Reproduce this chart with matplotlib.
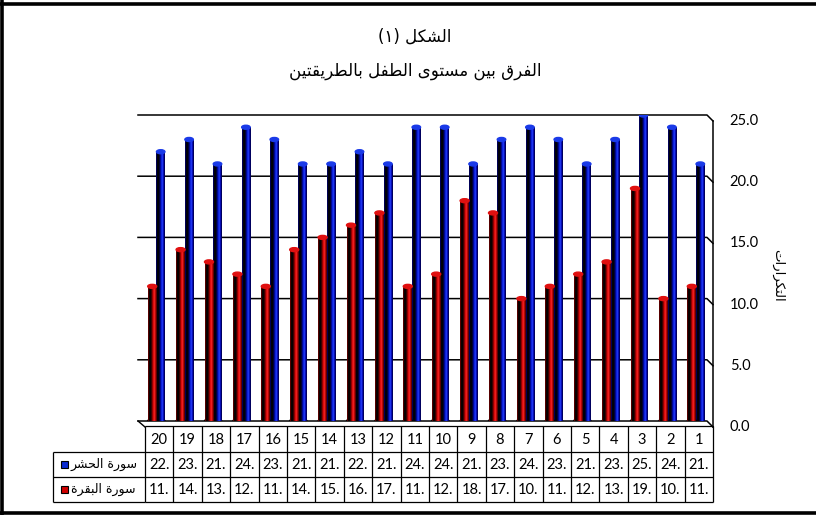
import numpy as np
import matplotlib.pyplot as plt
from matplotlib.colors import LinearSegmentedColormap
from matplotlib.patches import Ellipse, Rectangle
from matplotlib.transforms import blended_transform_factory

# data (categories 1..20, drawn right to left like the original)
cats = list(range(1, 21))
hashr = [21, 24, 25, 23, 21, 23, 24, 23, 21, 24, 24, 21, 22, 21, 21, 23, 24, 21, 23, 22]
baqara = [11, 10, 19, 13, 12, 11, 10, 17, 18, 12, 11, 17, 16, 15, 14, 11, 12, 13, 14, 11]
series_names = ['سورة الحشر', 'سورة البقرة']
title1 = 'الشكل (١)'
title2 = 'الفرق بين مستوى الطفل بالطريقتين'
ylabel = 'التكرارات'
yticks = [0, 5, 10, 15, 20, 25]

# --- tiny arabic shaper (matplotlib has no shaping / bidi) ---
# letter: (isolated, final, initial, medial)
FORMS = {
    'ا': ('\uFE8D', '\uFE8E', None, None),
    'ب': ('\uFE8F', '\uFE90', '\uFE91', '\uFE92'),
    'ة': ('\uFE93', '\uFE94', None, None),
    'ت': ('\uFE95', '\uFE96', '\uFE97', '\uFE98'),
    'ح': ('\uFEA1', '\uFEA2', '\uFEA3', '\uFEA4'),
    'ر': ('\uFEAD', '\uFEAE', None, None),
    'س': ('\uFEB1', '\uFEB2', '\uFEB3', '\uFEB4'),
    'ش': ('\uFEB5', '\uFEB6', '\uFEB7', '\uFEB8'),
    'ط': ('\uFEC1', '\uFEC2', '\uFEC3', '\uFEC4'),
    'ف': ('\uFED1', '\uFED2', '\uFED3', '\uFED4'),
    'ق': ('\uFED5', '\uFED6', '\uFED7', '\uFED8'),
    'ك': ('\uFED9', '\uFEDA', '\uFEDB', '\uFEDC'),
    'ل': ('\uFEDD', '\uFEDE', '\uFEDF', '\uFEE0'),
    'م': ('\uFEE1', '\uFEE2', '\uFEE3', '\uFEE4'),
    'ن': ('\uFEE5', '\uFEE6', '\uFEE7', '\uFEE8'),
    'و': ('\uFEED', '\uFEEE', None, None),
    'ى': ('\uFEEF', '\uFEF0', None, None),
    'ي': ('\uFEF1', '\uFEF2', '\uFEF3', '\uFEF4'),
}


def ar(s):
    out = []
    for i, c in enumerate(s):
        if c not in FORMS:
            out.append(c)
            continue
        prev = s[i - 1] if i > 0 else ''
        nxt = s[i + 1] if i + 1 < len(s) else ''
        jp = prev in FORMS and FORMS[prev][2] is not None
        jn = nxt in FORMS and FORMS[c][2] is not None
        iso, fin, ini, med = FORMS[c]
        if jp and jn:
            out.append(med)
        elif jp:
            out.append(fin)
        elif jn:
            out.append(ini)
        else:
            out.append(iso)
    vis = ''.join(reversed(out))
    return vis.translate({ord('('): ')', ord(')'): '('})


AR = ['DejaVu Sans']
NUM = ['Lato', 'DejaVu Sans']

W, H = 816, 515
fig = plt.figure(figsize=(W / 100, H / 100), dpi=100)

# plot area in pixels
L, R, TOP, BOT = 145, 713, 115, 421
ax = fig.add_axes([L / W, 1 - BOT / H, (R - L) / W, (BOT - TOP) / H])
ax.set_xlim(20.5, 0.5)
ax.set_ylim(0, 25)
ax.axis('off')

px_x = (R - L) / 20.0
px_y = (BOT - TOP) / 25.0
dx_back = 6 / px_x      # depth offset of the side wall
dy_back = 6 / px_y

# back wall gridlines + side wall
for v in yticks:
    ax.plot([20.5 + 7 / px_x, 0.5 + dx_back, 0.5], [v, v, v - dy_back],
            color='black', lw=1.1, clip_on=False, zorder=1)
ax.plot([20.5 + 7 / px_x, 20.5], [0, -dy_back], color='black', lw=1.0,
        clip_on=False, zorder=1)
ax.plot([0.5, 0.5], [25 - dy_back, -dy_back], color='black', lw=1.1,
        clip_on=False, zorder=1)

# y tick labels on the right
for v in yticks:
    ax.annotate(f'{v:.1f}', xy=(0.5, v - dy_back), xytext=(12, 0),
                textcoords='offset points', ha='left', va='center',
                fontsize=10.5, family=NUM, annotation_clip=False)

fig.text(778 / W, 1 - 275 / H, ar(ylabel), rotation=-90, ha='center',
         va='center', fontsize=9.5, family=AR)

# cylinder-like bars
red_cmap = LinearSegmentedColormap.from_list(
    'r', ['#8a0000', '#000000', '#000000', '#500000', '#d00000', '#ff2a2a',
          '#b00000', '#300000'])
blue_cmap = LinearSegmentedColormap.from_list(
    'b', ['#00008a', '#000000', '#000000', '#000050', '#0010d0', '#2a48ff',
          '#0000b0', '#000030'])
grad = np.linspace(0, 1, 64).reshape(1, -1)

x = np.array(cats, dtype=float)
specs = [
    (hashr, -1.5 / px_x, 8.5 / px_x, blue_cmap, '#1a3ae8', 3),
    (baqara, 7 / px_x, 9 / px_x, red_cmap, '#e01010', 5),
]
for vals, off, w, cmap, capc, z in specs:
    bars = ax.bar(x + off, vals, width=w, color=capc, zorder=z, linewidth=0)
    for b in bars:
        x0, bw, h = b.get_x(), b.get_width(), b.get_height()
        im = ax.imshow(grad, extent=(x0 + bw, x0, 0, h), aspect='auto',
                       cmap=cmap, zorder=z, interpolation='bilinear')
        im.set_clip_path(b)
        xc = x0 + bw / 2
        ax.add_patch(Ellipse((xc, h), bw, 4 / px_y, color=capc, zorder=z + 0.5))
        ax.add_patch(Ellipse((xc, 0), bw, 4 / px_y, color='#000000', zorder=z - 0.1))
ax.set_xlim(20.5, 0.5)
ax.set_ylim(0, 25)

# overlay in pixel coordinates for titles, table and border
ov = fig.add_axes([0, 0, 1, 1], zorder=10)
ov.set_xlim(0, W)
ov.set_ylim(H, 0)
ov.axis('off')

ov.text(415, 37, ar(title1), ha='center', va='center', fontsize=12, family=AR)
ov.text(415, 71, ar(title2), ha='center', va='center', fontsize=12, family=AR)

# data table
tb = blended_transform_factory(ax.transData, ov.transData)
r0, r1, r2, r3 = 426, 452, 477, 502
lk = dict(color='black', lw=0.9, solid_capstyle='butt')
ov.plot([20.5, 0.5], [r0, r0], transform=tb, **lk)
for yy in (r1, r2, r3):
    ov.plot([53, L], [yy, yy], **lk)
    ov.plot([20.5, 0.5], [yy, yy], transform=tb, **lk)
for c in range(21):
    ov.plot([c + 0.5, c + 0.5], [r0, r3], transform=tb, **lk)
ov.plot([53, 53], [r1, r3], **lk)

for c in cats:
    ov.text(c, (r0 + r1) / 2 + 1, str(c), transform=tb, ha='center',
            va='center', fontsize=10.5, family=NUM)
for row, vals in ((r1, hashr), (r2, baqara)):
    for c, v in zip(cats, vals):
        ov.text(c, row + 13, f'{v}.', transform=tb, ha='center', va='center',
                fontsize=10.5, family=NUM)

# legend keys inside the table
for row, name, col in ((r1, series_names[0], '#0a2ad0'),
                       (r2, series_names[1], '#d00000')):
    ov.add_patch(Rectangle((61, row + 9), 7, 7, facecolor=col,
                           edgecolor='black', lw=0.8))
    ov.text(71, row + 12.5, ar(name), ha='left', va='center', fontsize=9,
            family=AR)

# outer frame (no right edge in the original)
fk = dict(color='black', lw=2.6, solid_capstyle='butt')
ov.plot([0, W], [3.5, 3.5], **fk)
ov.plot([2, 2], [0, H], **fk)
ov.plot([0, W], [512.5, 512.5], **fk)

fig.savefig('out.png', dpi=100)
